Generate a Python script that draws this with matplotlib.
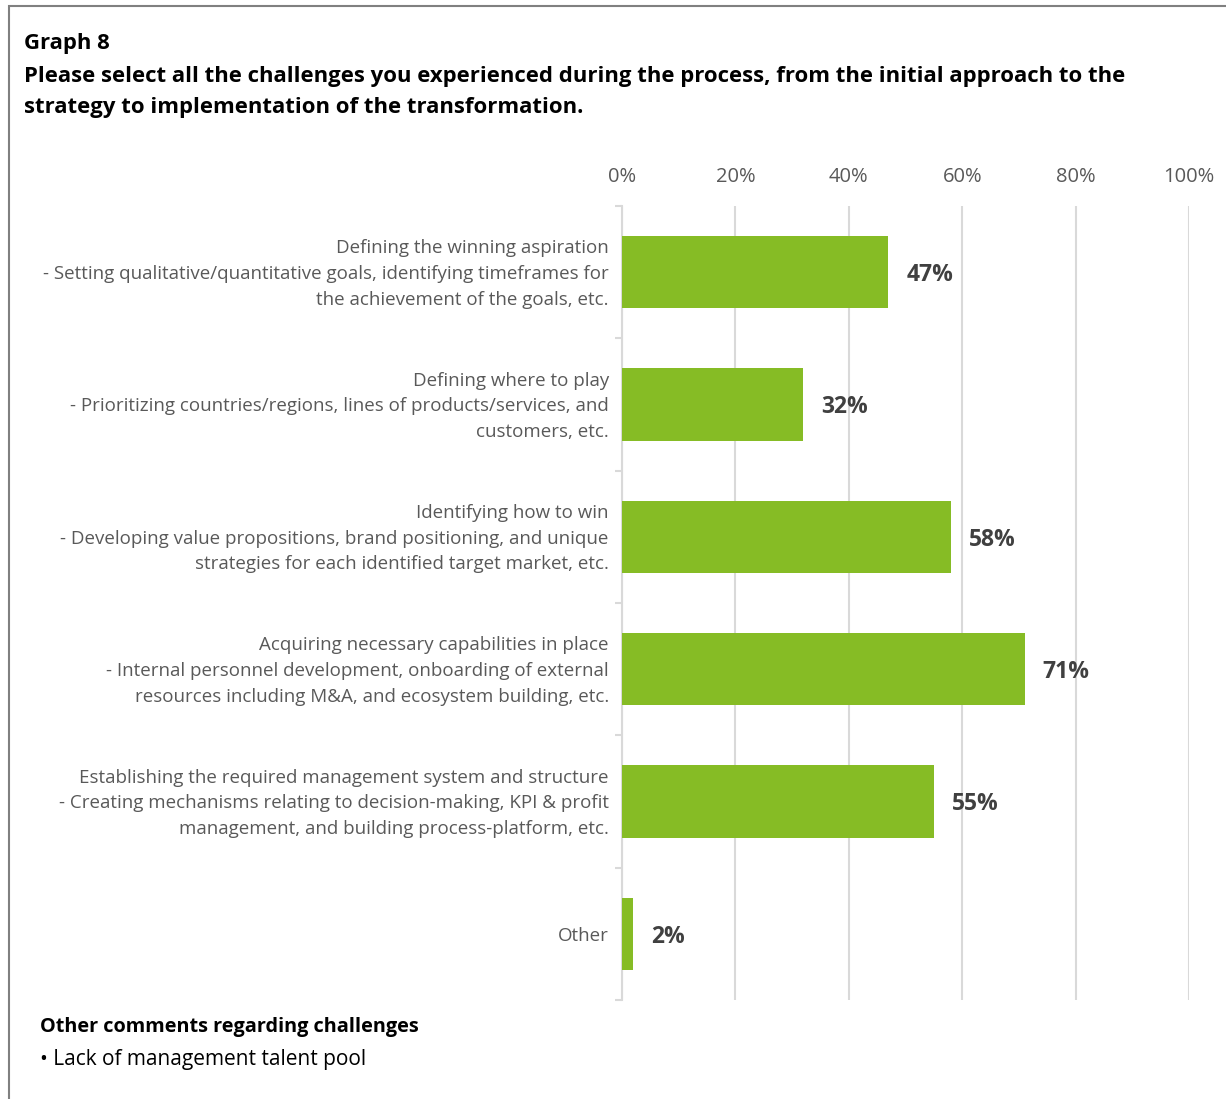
import matplotlib
matplotlib.use("Agg")
import matplotlib.pyplot as plt
import matplotlib.patches as mpatches
from matplotlib.transforms import ScaledTranslation
import numpy as np

categories = [
    "Defining the winning aspiration\n- Setting qualitative/quantitative goals, identifying timeframes for\nthe achievement of the goals, etc.",
    "Defining where to play\n- Prioritizing countries/regions, lines of products/services, and\ncustomers, etc.",
    "Identifying how to win\n- Developing value propositions, brand positioning, and unique\nstrategies for each identified target market, etc.",
    "Acquiring necessary capabilities in place\n- Internal personnel development, onboarding of external\nresources including M&A, and ecosystem building, etc.",
    "Establishing the required management system and structure\n- Creating mechanisms relating to decision-making, KPI & profit\nmanagement, and building process-platform, etc.",
    "Other",
]
values = [47, 32, 58, 71, 55, 2]
x_ticks = [0, 20, 40, 60, 80, 100]
x_tick_labels = ["0%", "20%", "40%", "60%", "80%", "100%"]

W, H = 1226, 1099
fig = plt.figure(figsize=(W / 100, H / 100), dpi=100)
fig.patch.set_facecolor("white")

FONT = "Open Sans"
GREEN = "#86BC25"
GRID = "#D9D9D9"

# outer frame (left and top edges visible)
frame = mpatches.Rectangle((8.5 / W, -0.2), 1.5, 1.2 - 5.5 / H, transform=fig.transFigure,
                           fill=False, edgecolor="#808080", linewidth=1.5, zorder=0)
fig.patches.append(frame)

ax = fig.add_axes([622 / W, 1 - 1000 / H, (1189 - 622) / W, (1000 - 206) / H])
y = np.arange(len(categories))
ax.barh(y, values, height=0.545, color=GREEN, zorder=3)
ax.set_ylim(len(categories) - 0.5, -0.5)
ax.set_xlim(0, 100)

ax.set_xticks(x_ticks)
ax.set_xticklabels(x_tick_labels, fontfamily=FONT, fontsize=14.5, color="#595959")
ax.xaxis.tick_top()
ax.tick_params(axis="x", length=0, pad=14)
ax.grid(axis="x", color=GRID, linewidth=1.5, zorder=0)

ax.set_yticks(y)
ax.set_yticklabels(categories, fontfamily=FONT, fontsize=13.5, color="#595959",
                   linespacing=1.55)
ax.tick_params(axis="y", length=0, pad=9.5)
for lab in ax.get_yticklabels():
    if "\n" in lab.get_text():
        lab.set_transform(lab.get_transform() + ScaledTranslation(0, 4 / 100, fig.dpi_scale_trans))
ax.set_yticks(np.arange(len(categories) + 1) - 0.5, minor=True)
ax.tick_params(axis="y", which="minor", length=5, color=GRID, width=1.5)

for s in ["top", "right", "bottom"]:
    ax.spines[s].set_visible(False)
ax.spines["left"].set_color(GRID)
ax.spines["left"].set_linewidth(1.5)

for yi, v in zip(y, values):
    ax.annotate(f"{v}%", xy=(v, yi), xytext=(13, -2), textcoords="offset points",
                va="center", ha="left", fontfamily=FONT, fontsize=16.5,
                fontweight="bold", color="#404040")

fig.text(24 / W, 1 - 43 / H, "Graph 8", fontfamily=FONT, fontsize=15.9, fontweight="bold",
         color="black", va="center", ha="left")
fig.text(24 / W, 1 - 92 / H,
         "Please select all the challenges you experienced during the process, from the initial approach to the\nstrategy to implementation of the transformation.",
         fontfamily=FONT, fontsize=15.9, fontweight="bold", color="black", va="center",
         ha="left", linespacing=1.68)

fig.text(40 / W, 1 - 1027 / H, "Other comments regarding challenges", fontfamily=FONT,
         fontsize=14.3, fontweight="bold", color="black", va="center", ha="left")
fig.text(40 / W, 1 - 1059 / H, "\u2022 Lack of management talent pool", fontfamily=FONT,
         fontsize=15, color="black", va="center", ha="left")

fig.savefig("out.png", dpi=100, facecolor="white")
